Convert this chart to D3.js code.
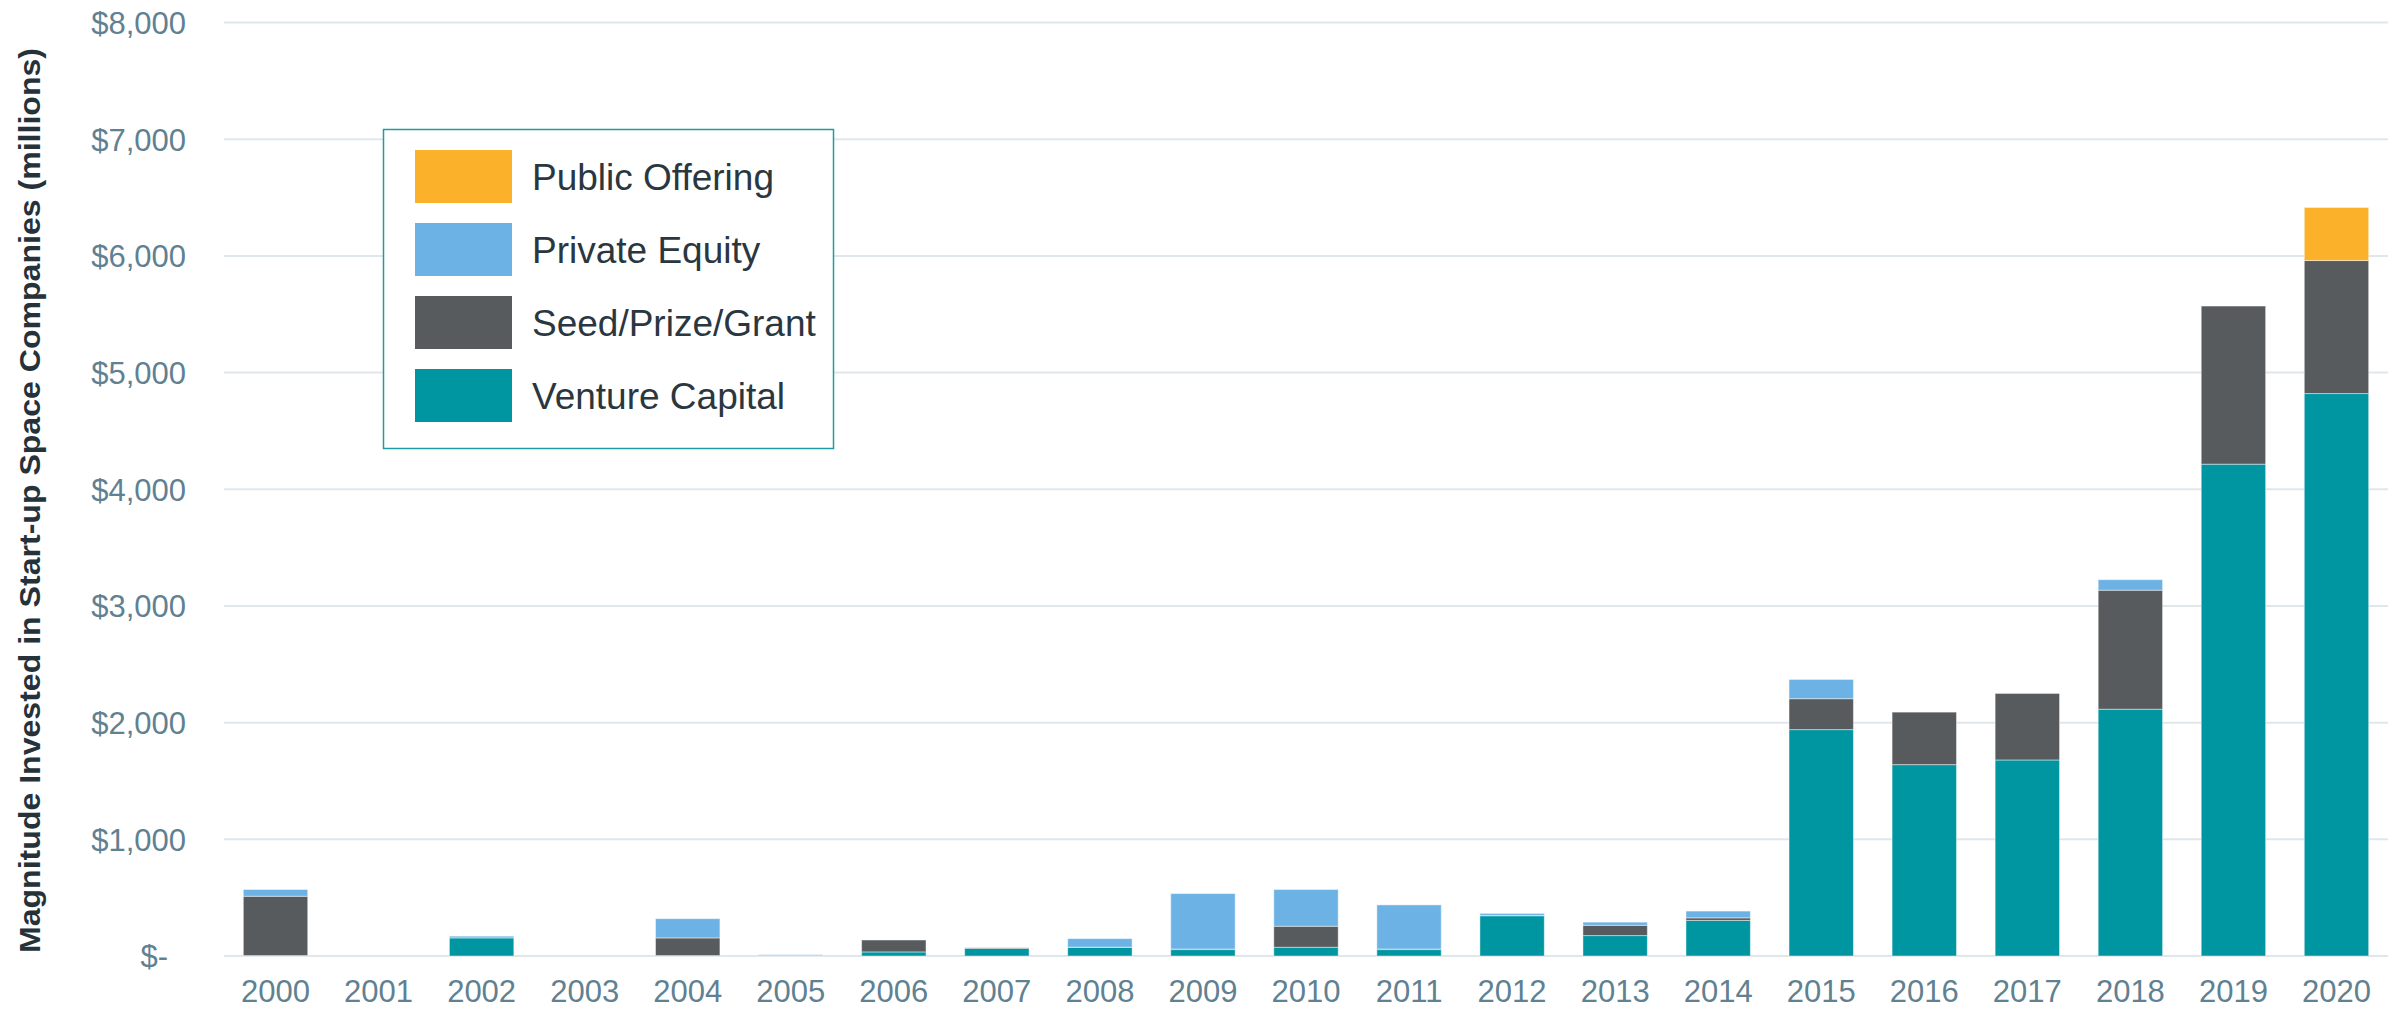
<!DOCTYPE html>
<html>
<head>
<meta charset="utf-8">
<script src="https://cdn.jsdelivr.net/npm/d3@7"></script>
<style>
  html, body { margin: 0; padding: 0; background: #ffffff; }
  svg { display: block; }
</style>
</head>
<body>
<svg id="chart" width="2407" height="1010"></svg>
<script>
const years = ["2000","2001","2002","2003","2004","2005","2006","2007","2008","2009","2010",
               "2011","2012","2013","2014","2015","2016","2017","2018","2019","2020"];
const ventureCapital = [4, 0, 155, 0, 4, 3, 35, 65, 73, 55, 75, 55, 345, 175, 305, 1940, 1640, 1680, 2115, 4215, 4820];
const seedPrizeGrant = [508, 0, 0, 0, 151, 0, 102, 5, 3, 5, 180, 5, 3, 88, 22, 265, 450, 570, 1020, 1355, 1140];
const privateEquity  = [58, 0, 15, 0, 165, 8, 0, 0, 73, 475, 315, 378, 17, 27, 58, 165, 0, 0, 90, 0, 0];
const publicOffering = [0, 0, 0, 0, 0, 0, 0, 0, 0, 0, 0, 0, 0, 0, 0, 0, 0, 0, 0, 0, 455];
const yTicks = [0, 1000, 2000, 3000, 4000, 5000, 6000, 7000, 8000];

const seriesNames = ["Venture Capital", "Seed/Prize/Grant", "Private Equity", "Public Offering"];
const seriesColors = ["#0096a1", "#575b5e", "#6cb2e5", "#fbb22a"];
const legendOrder = ["Public Offering", "Private Equity", "Seed/Prize/Grant", "Venture Capital"];

const table = years.map((yr, i) => ({
  year: yr,
  "Venture Capital": ventureCapital[i],
  "Seed/Prize/Grant": seedPrizeGrant[i],
  "Private Equity": privateEquity[i],
  "Public Offering": publicOffering[i]
}));

const svg = d3.select("#chart");
const plotLeft = 224, plotRight = 2388, plotTop = 22.5, plotBottom = 956;

const x = d3.scaleBand().domain(years).range([plotLeft, plotRight]).paddingInner(0.375).paddingOuter(0.1875);
const y = d3.scaleLinear().domain([0, 8000]).range([plotBottom, plotTop]);
const color = d3.scaleOrdinal().domain(seriesNames).range(seriesColors);

const labelColor = "#5f8191";
const font = "'Liberation Sans', Arial, Helvetica, sans-serif";

// gridlines
svg.append("g")
  .selectAll("line")
  .data(yTicks)
  .join("line")
  .attr("x1", plotLeft).attr("x2", plotRight)
  .attr("y1", d => y(d)).attr("y2", d => y(d))
  .attr("stroke", "#dfe7eb")
  .attr("stroke-width", 2);

// y axis
const yAxis = svg.append("g")
  .attr("transform", `translate(186,0)`)
  .call(d3.axisLeft(y).tickValues(yTicks).tickSize(0).tickPadding(0)
    .tickFormat(d => d === 0 ? "$-" : "$" + d3.format(",")(d)));
yAxis.select(".domain").remove();
yAxis.selectAll("text")
  .attr("fill", labelColor)
  .attr("font-family", font)
  .attr("font-size", "31px")
  .attr("dy", "0.35em")
  .attr("dx", d => d === 0 ? -18 : 0);

// x axis
const xAxis = svg.append("g")
  .attr("transform", `translate(0,${plotBottom})`)
  .call(d3.axisBottom(x).tickSize(0).tickPadding(0));
xAxis.select(".domain").remove();
xAxis.selectAll("text")
  .attr("fill", labelColor)
  .attr("font-family", font)
  .attr("font-size", "31px")
  .attr("dy", null)
  .attr("y", 46);

// stacked bars
const stack = d3.stack().keys(seriesNames);
const stacked = stack(table);

svg.append("g")
  .selectAll("g")
  .data(stacked)
  .join("g")
  .attr("fill", d => color(d.key))
  .selectAll("rect")
  .data(d => d.filter(s => s[1] - s[0] > 0))
  .join("rect")
  .attr("x", d => x(d.data.year))
  .attr("width", x.bandwidth())
  .attr("y", d => y(d[1]))
  .attr("height", d => y(d[0]) - y(d[1]))
  .attr("stroke", "rgba(255,255,255,0.45)")
  .attr("stroke-width", 1);

// y axis title
svg.append("text")
  .attr("transform", `translate(40,500.5) rotate(-90)`)
  .attr("text-anchor", "middle")
  .attr("font-family", "'Liberation Sans Narrow', 'Arial Narrow', 'Liberation Sans', Arial, sans-serif")
  .attr("font-weight", "bold")
  .attr("font-size", "30px")
  .attr("fill", "#26323a")
  .attr("textLength", 905)
  .attr("lengthAdjust", "spacingAndGlyphs")
  .text("Magnitude Invested in Start-up Space Companies (millions)");

// legend
const legend = svg.append("g");
legend.append("rect")
  .attr("x", 383.5).attr("y", 129.5)
  .attr("width", 450).attr("height", 319)
  .attr("fill", "#ffffff")
  .attr("stroke", "#1d9ca3")
  .attr("stroke-width", 1.5);

const items = legend.selectAll("g.item")
  .data(legendOrder)
  .join("g")
  .attr("class", "item")
  .attr("transform", (d, i) => `translate(415,${150 + i * 73})`);
items.append("rect")
  .attr("width", 97).attr("height", 53)
  .attr("fill", d => color(d));
items.append("text")
  .attr("x", 117).attr("y", 40)
  .attr("font-family", font)
  .attr("font-size", "37px")
  .attr("fill", "#2b3740")
  .text(d => d);
</script>
</body>
</html>
